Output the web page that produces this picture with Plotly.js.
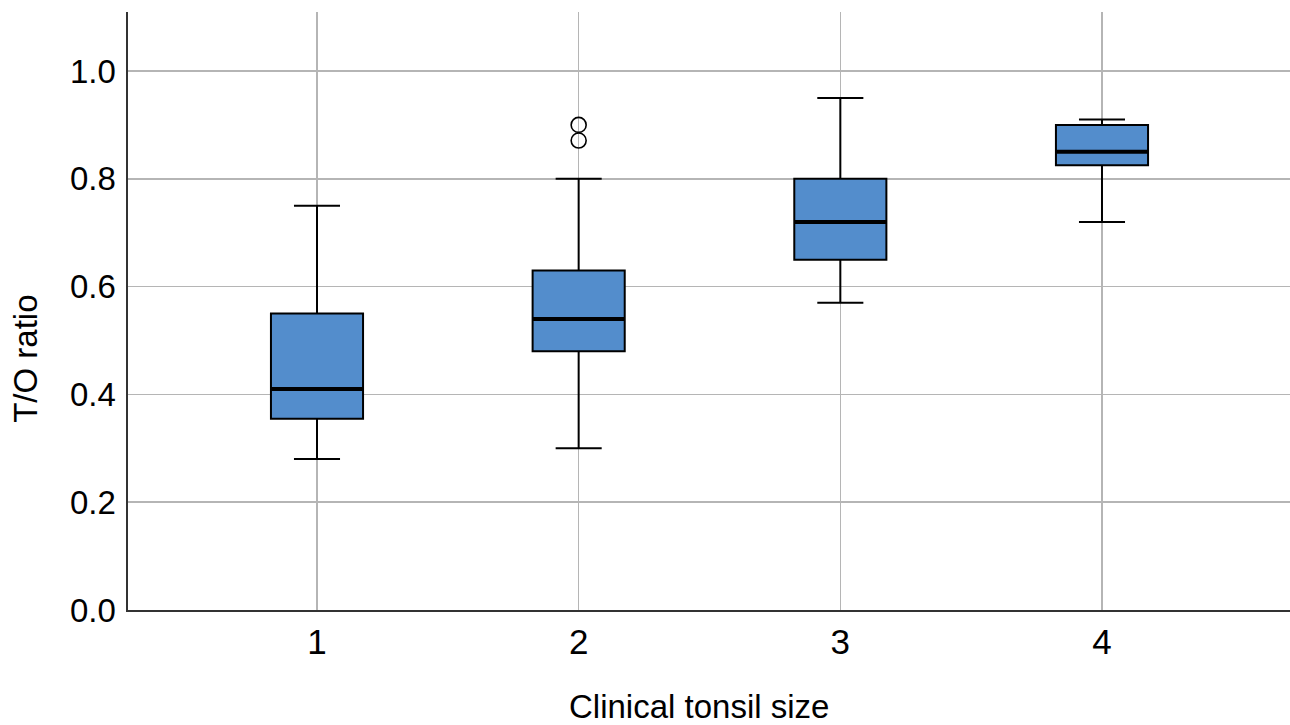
<!DOCTYPE html>
<html>
<head>
<meta charset="utf-8">
<script src="https://cdn.plot.ly/plotly-3.0.1.min.js"></script>
<style>html,body{margin:0;padding:0;background:#fff;}#chart{width:1290px;height:725px;}</style>
</head>
<body>
<div id="chart"></div>
<script>
// Data
const categories = [1, 2, 3, 4];
const tickLabels = ["1", "2", "3", "4"];
const lowerWhisker = [0.28, 0.30, 0.57, 0.72];
const q1Values = [0.355, 0.48, 0.65, 0.825];
const medianValues = [0.41, 0.54, 0.72, 0.85];
const q3Values = [0.55, 0.63, 0.80, 0.90];
const upperWhisker = [0.75, 0.80, 0.95, 0.91];
const outlierCategory = [2, 2];
const outlierValues = [0.90, 0.871];
const yTicks = [0, 0.2, 0.4, 0.6, 0.8, 1.0];

const boxWidth = 0.352;
const fill = "#538dcc";

const boxTrace = {
  type: "box",
  x: categories,
  q1: q1Values,
  median: medianValues,
  q3: q3Values,
  lowerfence: lowerWhisker,
  upperfence: upperWhisker,
  width: boxWidth,
  whiskerwidth: 0.5,
  fillcolor: fill,
  line: {color: "#000000", width: 2},
  boxpoints: false,
  hoverinfo: "skip",
  showlegend: false
};

// thick median bars
const mx = [], my = [];
categories.forEach((c, i) => {
  mx.push(c - boxWidth / 2, c + boxWidth / 2, null);
  my.push(medianValues[i], medianValues[i], null);
});
const medianTrace = {
  type: "scatter", mode: "lines", x: mx, y: my,
  line: {color: "#000000", width: 4},
  hoverinfo: "skip", showlegend: false
};

const outlierTrace = {
  type: "scatter", mode: "markers",
  x: outlierCategory, y: outlierValues,
  marker: {symbol: "circle-open", size: 15, color: "#000000", line: {width: 1.6, color: "#000000"}},
  hoverinfo: "skip", showlegend: false
};

const font = {family: "Liberation Sans, Arial, sans-serif", color: "#000000"};

const layout = {
  width: 1290, height: 725,
  margin: {l: 128, r: 0, t: 12, b: 115, pad: 0},
  paper_bgcolor: "#ffffff", plot_bgcolor: "#ffffff",
  font: Object.assign({size: 30}, font),
  showlegend: false,
  xaxis: {
    range: [0.2777, 4.7185],
    tickvals: categories, ticktext: tickLabels,
    showgrid: true, gridcolor: "#b5b5b5", gridwidth: 1.6,
    zeroline: false,
    showline: true, linecolor: "#333333", linewidth: 1.6,
    ticks: "", ticklabelstandoff: 0,
    tickfont: Object.assign({size: 35}, font),
    fixedrange: true
  },
  yaxis: {
    range: [0, 1.1095],
    tickvals: yTicks, tickformat: ".1f",
    showgrid: true, gridcolor: "#b5b5b5", gridwidth: 1.6,
    zeroline: false,
    showline: true, linecolor: "#333333", linewidth: 1.6,
    ticks: "", ticklabelstandoff: 4,
    tickfont: Object.assign({size: 33}, font),
    fixedrange: true
  },
  annotations: [
    {text: "Clinical tonsil size", xref: "paper", yref: "paper", x: 0.4916, y: -0.161,
     xanchor: "center", yanchor: "middle", showarrow: false, font: Object.assign({size: 33}, font)},
    {text: "T/O ratio", xref: "paper", yref: "paper", x: -0.0878, y: 0.42, textangle: -90,
     xanchor: "center", yanchor: "middle", showarrow: false, font: Object.assign({size: 33}, font)}
  ]
};

Plotly.newPlot("chart", [boxTrace, medianTrace, outlierTrace], layout, {displayModeBar: false, staticPlot: true});
</script>
</body>
</html>
